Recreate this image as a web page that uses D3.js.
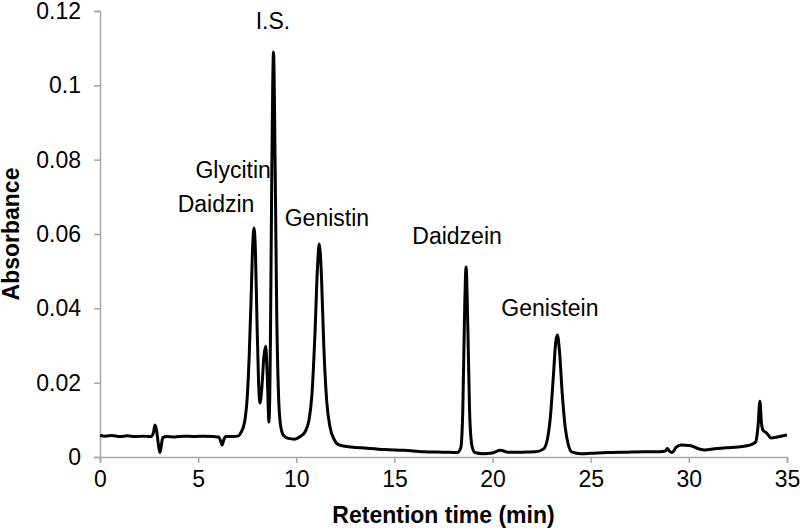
<!DOCTYPE html>
<html>
<head>
<meta charset="utf-8">
<script src="https://cdn.jsdelivr.net/npm/d3@7"></script>
<style>
  html, body { margin: 0; padding: 0; background: #fff; }
  svg { display: block; }
  text { font-family: "Liberation Sans", Arial, sans-serif; fill: #000; }
</style>
</head>
<body>
<svg id="chart" width="800" height="530"></svg>
<script>
// Retention time (min)
const retentionTime = [
  0.0, 0.3, 0.6, 1.0, 1.4, 1.8, 2.2, 2.6, 2.72, 2.8, 2.88, 2.96, 3.05, 3.12, 3.2, 3.4, 3.8, 4.3, 4.8, 5.3,
  5.8, 6.05, 6.15, 6.22, 6.3, 6.4, 6.8, 7.05, 7.2, 7.3, 7.4, 7.5, 7.6, 7.7, 7.78, 7.85, 7.92, 8.0, 8.08, 8.15,
  8.25, 8.35, 8.44, 8.52, 8.61, 8.68, 8.75, 8.84, 8.92, 9.0, 9.1, 9.2, 9.35, 9.6, 9.9, 10.2, 10.45, 10.65, 10.8, 10.95,
  11.08, 11.17, 11.28, 11.4, 11.55, 11.72, 11.95, 12.2, 12.8, 13.5, 14.5, 15.5, 16.5, 17.5, 18.2, 18.38, 18.48, 18.56, 18.65, 18.74,
  18.83, 18.95, 19.1, 19.5, 20.0, 20.4, 20.8, 21.5, 22.2, 22.6, 22.8, 22.95, 23.1, 23.22, 23.3, 23.4, 23.55, 23.7, 23.85, 24.05,
  24.5, 25.0, 25.8, 26.8, 27.8, 28.5, 28.8, 28.9, 29.0, 29.15, 29.35, 29.6, 30.1, 30.5, 30.8, 31.3, 31.9, 32.5, 33.1, 33.4,
  33.52, 33.62, 33.7, 33.78, 33.95, 34.2, 34.5, 35.0
];
// Absorbance
const absorbance = [
  0.0058, 0.0056, 0.0058, 0.0055, 0.0057, 0.0055, 0.0056, 0.0055, 0.0065, 0.0086, 0.0072, 0.0040, 0.0012, 0.0030, 0.0052, 0.0055, 0.0054, 0.0056, 0.0055, 0.0056,
  0.0055, 0.0054, 0.0042, 0.0032, 0.0045, 0.0055, 0.0055, 0.0057, 0.0068, 0.0080, 0.0105, 0.0160, 0.0270, 0.0430, 0.0570, 0.0616, 0.0550, 0.0360, 0.0200, 0.0145,
  0.0190, 0.0270, 0.0298, 0.0220, 0.0094, 0.0300, 0.0750, 0.1090, 0.0800, 0.0400, 0.0160, 0.0085, 0.0058, 0.0050, 0.0048, 0.0055, 0.0068, 0.0100, 0.0170, 0.0330,
  0.0510, 0.0573, 0.0490, 0.0300, 0.0150, 0.0080, 0.0045, 0.0032, 0.0027, 0.0024, 0.0020, 0.0018, 0.0014, 0.0013, 0.0012, 0.0025, 0.0120, 0.0350, 0.0511, 0.0350,
  0.0120, 0.0030, 0.0012, 0.0009, 0.0011, 0.0018, 0.0013, 0.0013, 0.0014, 0.0022, 0.0050, 0.0110, 0.0220, 0.0310, 0.0328, 0.0290, 0.0170, 0.0080, 0.0035, 0.0013,
  0.0009, 0.0010, 0.0012, 0.0013, 0.0014, 0.0014, 0.0016, 0.0023, 0.0016, 0.0012, 0.0026, 0.0032, 0.0030, 0.0022, 0.0019, 0.0022, 0.0025, 0.0027, 0.0032, 0.0040,
  0.0080, 0.0150, 0.0090, 0.0072, 0.0065, 0.0051, 0.0054, 0.0059
];

const xTicks = [0, 5, 10, 15, 20, 25, 30, 35];
const yTicks = [0, 0.02, 0.04, 0.06, 0.08, 0.1, 0.12];
const yTickLabels = ["0", "0.02", "0.04", "0.06", "0.08", "0.1", "0.12"];

// Peak labels, anchored in data units (time, absorbance)
const peakNames = ["I.S.", "Glycitin", "Daidzin", "Genistin", "Daidzein", "Genistein"];
const peakLabelTime = [8.81, 6.78, 5.91, 11.56, 18.19, 22.92];
const peakLabelAbs = [0.1152, 0.0751, 0.0659, 0.0622, 0.0573, 0.0379];

const xTitle = "Retention time (min)";
const yTitle = "Absorbance";

const svg = d3.select("#chart");
const margin = { left: 100, right: 13, top: 11, bottom: 73 };
const W = 800, H = 530;
const x = d3.scaleLinear().domain([0, 35]).range([margin.left, W - margin.right]);
const y = d3.scaleLinear().domain([0, 0.12]).range([H - margin.bottom, margin.top]);

const axisColor = "#a6a6a6";
const fontSize = 23;

// X axis
const gx = svg.append("g")
  .attr("transform", `translate(0,${y(0)})`)
  .call(d3.axisBottom(x).tickValues(xTicks).tickFormat(d3.format("d")).tickSizeOuter(0).tickSize(6).tickPadding(8));
// Y axis
const gy = svg.append("g")
  .attr("transform", `translate(${x(0)},0)`)
  .call(d3.axisLeft(y).tickValues(yTicks).tickFormat((d, i) => yTickLabels[i]).tickSizeOuter(0).tickSize(6).tickPadding(13));

[gx, gy].forEach(g => {
  g.select(".domain").attr("stroke", axisColor).attr("stroke-width", 1.5);
  g.selectAll(".tick line").attr("stroke", axisColor).attr("stroke-width", 1.5);
  g.selectAll(".tick text")
    .attr("fill", "#000")
    .style("font-family", '"Liberation Sans", Arial, sans-serif')
    .style("font-size", fontSize + "px");
});

// Chromatogram line
const pts = retentionTime.map((t, i) => [t, absorbance[i]]);
const line = d3.line().x(d => x(d[0])).y(d => y(d[1])).curve(d3.curveMonotoneX);
svg.append("path")
  .datum(pts)
  .attr("d", line)
  .attr("fill", "none")
  .attr("stroke", "#000")
  .attr("stroke-width", 3)
  .attr("stroke-linejoin", "round");

// Peak labels
svg.append("g").selectAll("text")
  .data(peakNames)
  .join("text")
  .attr("x", (d, i) => x(peakLabelTime[i]))
  .attr("y", (d, i) => y(peakLabelAbs[i]))
  .attr("text-anchor", "middle")
  .style("font-size", fontSize + "px")
  .text(d => d);

// Axis titles
svg.append("text")
  .attr("x", (x(0) + x(35)) / 2)
  .attr("y", 523)
  .attr("text-anchor", "middle")
  .style("font-size", fontSize + "px")
  .style("font-weight", "bold")
  .text(xTitle);

svg.append("text")
  .attr("transform", `translate(19,${(y(0) + y(0.12)) / 2}) rotate(-90)`)
  .attr("text-anchor", "middle")
  .style("font-size", fontSize + "px")
  .style("font-weight", "bold")
  .text(yTitle);
</script>
</body>
</html>
